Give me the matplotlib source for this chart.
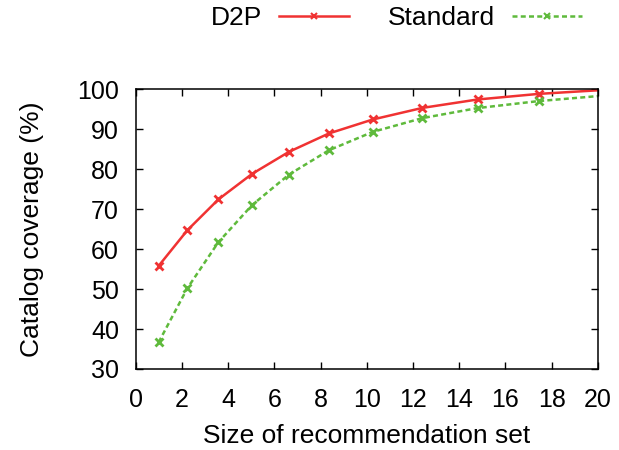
import matplotlib
matplotlib.use("Agg")
import matplotlib.pyplot as plt

# Recommendation set size and catalog coverage (%) for each method
set_size = [1.0, 2.24, 3.58, 5.04, 6.63, 8.36, 10.26, 12.41, 14.79, 17.43, 20.0]
d2p = [55.8, 64.7, 72.4, 78.8, 84.3, 88.9, 92.4, 95.3, 97.4, 98.8, 99.7]
standard = [36.7, 50.2, 61.7, 71.0, 78.6, 84.7, 89.3, 92.75, 95.25, 97.0, 98.25]

x_ticks = list(range(0, 21, 2))
y_ticks = list(range(30, 101, 10))

plt.rcParams["font.family"] = ["Liberation Sans", "DejaVu Sans"]

fig = plt.figure(figsize=(6.19, 4.50), dpi=100)
ax = fig.add_axes([0.219, 0.18, 0.747, 0.622])

red = "#f03232"
green = "#5fba3c"
marks = list(range(len(set_size) - 1))
fs_tick = 18
fs_lab = 19

ax.plot(set_size, d2p, color=red, lw=1.8, marker="x", ms=6, mew=2.0,
        markevery=marks, label="D2P")
ax.plot(set_size, standard, color=green, lw=1.8, ls=(0, (2, 1.3)), marker="x",
        ms=6, mew=2.0, markevery=marks, label="Standard")

ax.set_xlim(0, 20)
ax.set_ylim(30, 100)
ax.set_xticks(x_ticks)
ax.set_yticks(y_ticks)
ax.tick_params(direction="in", length=5, width=1, top=True, right=True,
               labelsize=fs_tick)
ax.tick_params(axis="y", pad=12)
ax.tick_params(axis="x", pad=14)
for s in ax.spines.values():
    s.set_linewidth(1.1)

ax.set_xlabel("Size of recommendation set", fontsize=fs_lab, labelpad=8)
ax.set_ylabel("Catalog coverage (%)", fontsize=fs_lab, labelpad=24)

leg = ax.legend(loc="lower right", bbox_to_anchor=(0.965, 1.21), ncol=2,
                frameon=False, markerfirst=False, fontsize=fs_lab,
                handlelength=2.65, handletextpad=0.65, columnspacing=1.45,
                borderaxespad=0, borderpad=0)
for h in leg.legend_handles:
    h.set_markersize(5)
    h.set_markeredgewidth(1.5)

fig.savefig("out.png", dpi=100)
